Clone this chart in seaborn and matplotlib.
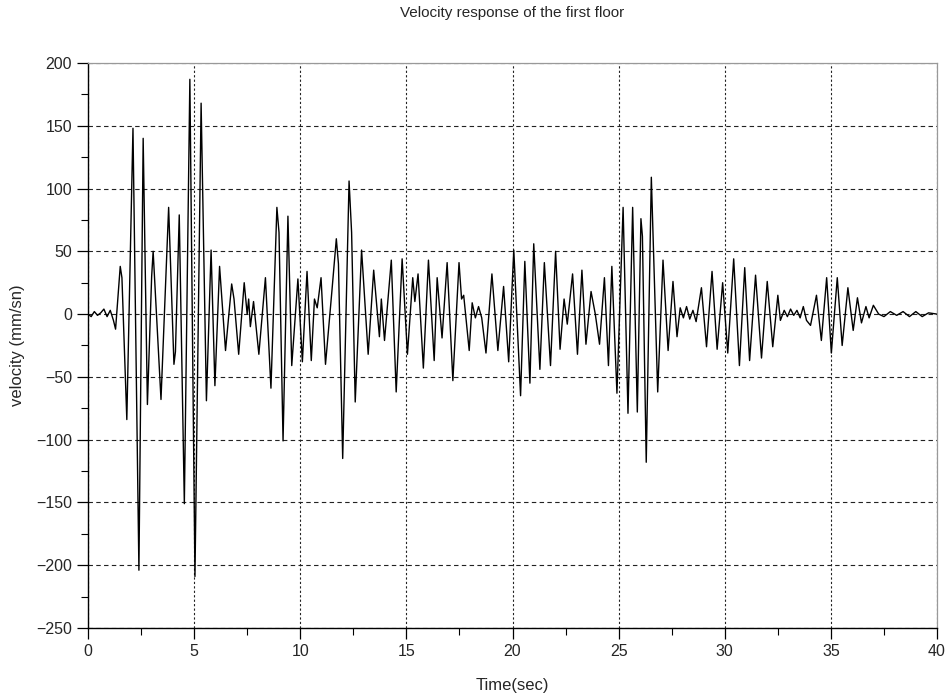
import matplotlib
matplotlib.use("Agg")
import matplotlib.pyplot as plt
import seaborn as sns
import pandas as pd
from matplotlib.ticker import MultipleLocator

# Peaks and troughs of the first-floor velocity record (time in s, velocity in mm/s)
time_s = [
    0.0, 0.15, 0.3, 0.45, 0.6, 0.75, 0.9, 1.05, 1.2, 1.3,
    1.52, 1.6, 1.83, 2.12, 2.4, 2.6, 2.8, 3.0, 3.07, 3.44,
    3.8, 4.05, 4.12, 4.3, 4.54, 4.8, 5.04, 5.33, 5.58, 5.8,
    5.98, 6.2, 6.48, 6.77, 6.88, 7.1, 7.36, 7.5, 7.57, 7.65,
    7.8, 8.05, 8.36, 8.62, 8.9, 9.0, 9.19, 9.42, 9.6, 9.89,
    10.1, 10.32, 10.52, 10.67, 10.8, 10.98, 11.19, 11.5, 11.7, 11.8,
    12.0, 12.3, 12.42, 12.59, 12.89, 13.2, 13.46, 13.73, 13.82, 13.97,
    14.29, 14.52, 14.8, 15.05, 15.3, 15.4, 15.55, 15.8, 16.04, 16.31,
    16.45, 16.68, 16.92, 17.19, 17.48, 17.6, 17.7, 17.96, 18.1, 18.25,
    18.4, 18.55, 18.75, 19.03, 19.31, 19.58, 19.82, 20.06, 20.38, 20.58,
    20.82, 21.0, 21.29, 21.5, 21.79, 22.03, 22.24, 22.43, 22.58, 22.83,
    23.06, 23.27, 23.46, 23.7, 23.9, 24.1, 24.33, 24.52, 24.68, 24.92,
    25.21, 25.44, 25.66, 25.88, 26.05, 26.12, 26.3, 26.54, 26.84, 27.09,
    27.33, 27.56, 27.75, 27.9, 28.05, 28.2, 28.35, 28.5, 28.65, 28.9,
    29.14, 29.4, 29.64, 29.9, 30.14, 30.42, 30.69, 30.94, 31.17, 31.45,
    31.73, 32.0, 32.26, 32.5, 32.62, 32.8, 32.95, 33.1, 33.25, 33.4,
    33.55, 33.7, 33.85, 34.04, 34.32, 34.55, 34.8, 35.02, 35.3, 35.53,
    35.8, 36.05, 36.25, 36.44, 36.65, 36.8, 37.0, 37.25, 37.5, 37.8,
    38.1, 38.4, 38.7, 39.0, 39.3, 39.6, 40.0,
]
velocity = [
    0, -2, 2, -1, 1, 4, -2, 3, -5, -12,
    38, 29, -84, 148, -204, 140, -72, 30, 50, -68,
    85, -40, -30, 79, -151, 187, -209, 168, -69, 51,
    -57, 38, -29, 24, 12, -32, 25, 0, 12, -10,
    10, -32, 29, -59, 85, 65, -101, 78, -41, 28,
    -38, 34, -37, 12, 5, 29, -40, 20, 60, 40,
    -115, 106, 65, -70, 51, -32, 35, -18, 12, -21,
    43, -62, 44, -32, 29, 10, 32, -43, 43, -37,
    29, -19, 41, -53, 41, 12, 15, -29, 9, -3,
    6, -3, -31, 32, -29, 22, -38, 51, -65, 42,
    -55, 56, -44, 41, -41, 50, -28, 12, -8, 32,
    -32, 35, -24, 18, 0, -24, 29, -41, 38, -63,
    85, -79, 85, -78, 76, 62, -118, 109, -62, 43,
    -29, 26, -18, 5, -3, 6, -4, 3, -6, 21,
    -26, 34, -28, 25, -31, 44, -41, 37, -37, 31,
    -35, 26, -26, 15, -5, 3, -2, 4, -1, 3,
    -3, 6, -5, -9, 15, -21, 29, -31, 29, -25,
    21, -13, 13, -7, 6, -3, 7, 0, -2, 2,
    -1, 2, -2, 2, -2, 1, 0,
]

x_ticks = [0, 5, 10, 15, 20, 25, 30, 35, 40]
y_ticks = [-250, -200, -150, -100, -50, 0, 50, 100, 150, 200]

df = pd.DataFrame({"Time(sec)": time_s, "velocity": velocity})

sns.set_theme(style="white")
plt.rcParams["font.family"] = ["Liberation Sans", "DejaVu Sans"]
plt.rcParams["axes.unicode_minus"] = True

fig = plt.figure(figsize=(9.49, 7.0), dpi=100)
ax = fig.add_axes([0.0927, 0.1029, 0.8947, 0.8071])

sns.lineplot(data=df, x="Time(sec)", y="velocity", color="black",
             linewidth=1.0, ax=ax, sort=False)

ax.set_xlim(0, 40)
ax.set_ylim(-250, 200)
ax.set_xticks(x_ticks)
ax.set_yticks(y_ticks)
ax.xaxis.set_minor_locator(MultipleLocator(2.5))
ax.yaxis.set_minor_locator(MultipleLocator(25))

ax.xaxis.grid(True, which="major", color="#222222", linestyle=(0, (2, 2)), linewidth=0.8)
ax.yaxis.grid(True, which="major", color="#222222", linestyle=(0, (4, 3)), linewidth=0.8)
ax.set_axisbelow(True)

ax.tick_params(axis="both", which="major", direction="out", length=8, width=0.9,
               color="black", labelsize=11.5, bottom=True, left=True)
ax.tick_params(axis="both", which="minor", direction="out", length=5, width=0.8,
               color="black", bottom=True, left=True)

for side in ("left", "bottom"):
    ax.spines[side].set_color("black")
    ax.spines[side].set_linewidth(1.0)
for side in ("top", "right"):
    ax.spines[side].set_color("#999999")
    ax.spines[side].set_linewidth(0.9)
    ax.spines[side].set_linestyle((0, (2, 1)))

ax.set_xlabel("Time(sec)", fontsize=12, labelpad=14)
ax.set_ylabel("velocity (mm/sn)", fontsize=12, labelpad=8)
ax.set_title("Velocity response of the first floor", fontsize=11, pad=33)

fig.savefig("out.png", dpi=100)
